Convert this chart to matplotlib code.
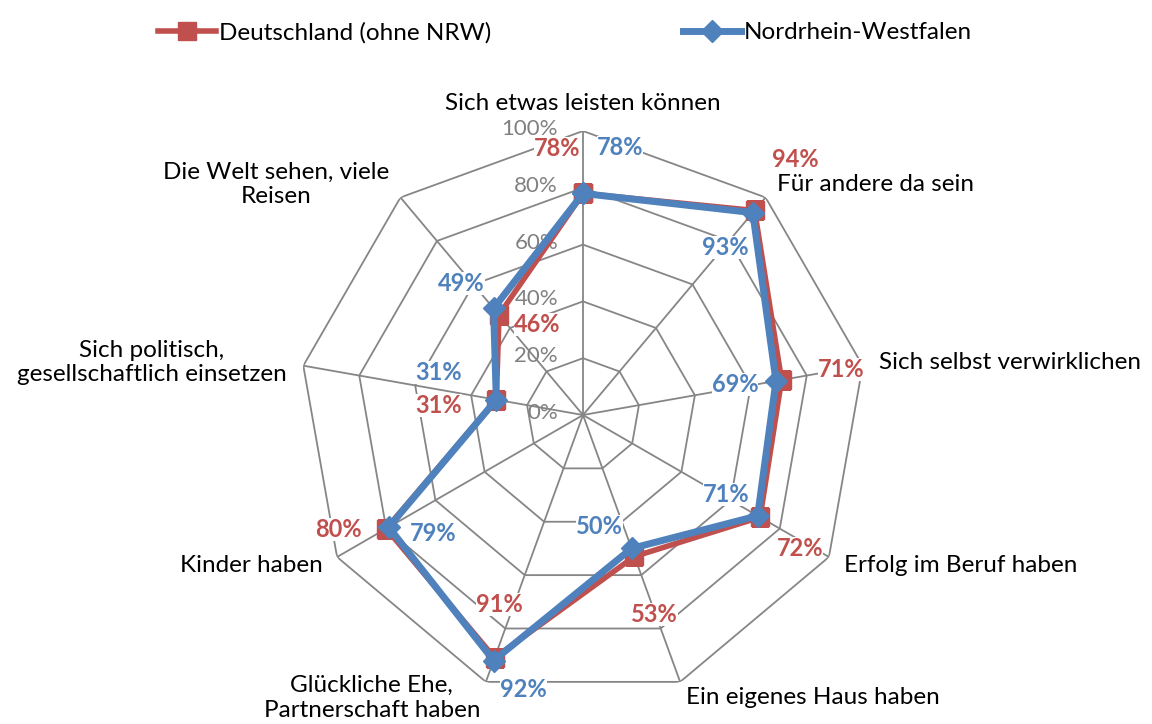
import numpy as np
import matplotlib
matplotlib.use("Agg")
import matplotlib.pyplot as plt
from matplotlib.lines import Line2D

# data
categories = ["Sich etwas leisten können", "Für andere da sein", "Sich selbst verwirklichen",
              "Erfolg im Beruf haben", "Ein eigenes Haus haben", "Glückliche Ehe,\nPartnerschaft haben",
              "Kinder haben", "Sich politisch,\ngesellschaftlich einsetzen", "Die Welt sehen, viele\nReisen"]
de_values = [78, 94, 71, 72, 53, 91, 80, 31, 46]
nrw_values = [78, 93, 69, 71, 50, 92, 79, 31, 49]
series_names = ["Deutschland (ohne NRW)", "Nordrhein-Westfalen"]
ticks = [0, 20, 40, 60, 80, 100]

# label offsets in pixels (x right, y up) relative to the marker
de_offsets = [(-26, 45), (41, 51), (60, 10), (40, -31), (20, -58), (5, 53), (-48, -1), (-58, -6), (38, -10)]
nrw_offsets = [(37, 46), (-27, -35), (-41, -4), (-31, 21), (-32, 22), (30, -29), (44, -6), (-58, 27), (-32, 25)]

red = "#C0504D"
blue = "#4F81BD"
grid_c = "#868686"
plt.rcParams['font.family'] = ['Lato', 'DejaVu Sans']

fig = plt.figure(figsize=(11.52, 7.24), dpi=100)
ax = fig.add_axes([(583 - 284) / 1152, (724 - 415 - 284) / 724, 568 / 1152, 568 / 724], projection='polar')
ax.set_theta_zero_location('N')
ax.set_theta_direction(-1)
ax.set_ylim(0, 100)
ax.grid(False)
ax.spines['polar'].set_visible(False)
ax.set_xticks([])
ax.set_yticks([])
ax.patch.set_alpha(0)

n = len(categories)
ang = np.arange(n) * 2 * np.pi / n
ang_c = np.append(ang, ang[0])

# polygon grid
for t in ticks[1:]:
    ax.plot(ang_c, [t] * (n + 1), color=grid_c, lw=1.3, zorder=1)
for a in ang:
    ax.plot([a, a], [0, 100], color=grid_c, lw=1.3, zorder=1)

# tick labels (under the series lines like in excel)
for t in ticks:
    ax.annotate(f"{t}%", (0, t), xytext=(-25, 2), textcoords='offset pixels',
                ha='right', va='center', color="#808080", fontsize=16, zorder=2)

# series
ax.plot(ang_c, de_values + de_values[:1], color=red, lw=4, marker='s', ms=13, zorder=3)
ax.plot(ang_c, nrw_values + nrw_values[:1], color=blue, lw=5, marker='D', ms=11, zorder=4)

# data labels
for vals, offs, col in [(de_values, de_offsets, red), (nrw_values, nrw_offsets, blue)]:
    for a, v, o in zip(ang, vals, offs):
        ax.annotate(f"{v}%", (a, v), xytext=o, textcoords='offset pixels', ha='center', va='center',
                    color=col, fontsize=17, fontweight='bold', zorder=5,
                    bbox=dict(boxstyle='square,pad=0.0', fc='white', ec='none'))

# category labels
for a, c in zip(ang, categories):
    s = np.sin(a)
    if s > 0.1:
        ha = 'left'
    elif s < -0.1:
        ha = 'right'
    else:
        ha = 'center'
    va = 'bottom' if a == 0 else 'center'
    ax.text(a, 106, c, ha=ha, va=va, multialignment='center', fontsize=17.5, color='black', zorder=7)

handles = [Line2D([], [], color=red, lw=4, marker='s', ms=13),
           Line2D([], [], color=blue, lw=5, marker='D', ms=11)]
fig.legend(handles, series_names, loc='upper center', bbox_to_anchor=(0.4905, 1.0), ncol=2,
           frameon=False, fontsize=17.5, handlelength=2.4, handletextpad=0.1, columnspacing=7.9)

fig.savefig("out.png", dpi=100)
